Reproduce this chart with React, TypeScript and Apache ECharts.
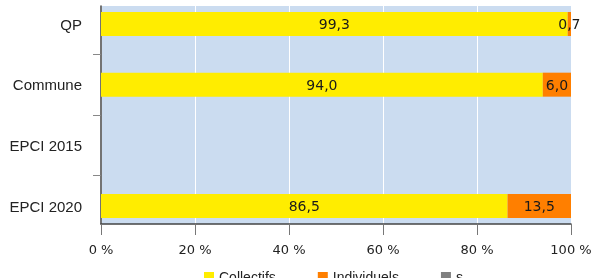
import React, { useEffect, useRef } from "react";
import * as echarts from "echarts";

const categories = ["QP", "Commune", "EPCI 2015", "EPCI 2020"];
const collectifs: (number | null)[] = [99.3, 94.0, null, 86.5];
const individuels: (number | null)[] = [0.7, 6.0, null, 13.5];
const secret: (number | null)[] = [0, 0, null, 0];
const seriesNames = ["Collectifs", "Individuels", "s"];
const seriesColors = ["#ffed00", "#ff7f00", "#808080"];
const xTicks = [0, 20, 40, 60, 80, 100];

const fmt = (p: any) => {
  const v = p.value;
  if (v == null || v === 0) return "";
  return Number(v).toFixed(1).replace(".", ",");
};

export default function App() {
  const ref = useRef<HTMLDivElement>(null);
  useEffect(() => {
    if (!ref.current) return;
    const chart = echarts.init(ref.current, null, { renderer: "svg" });
    const gridLeft = 101;
    const gridRight = 22;
    const seriesData = [collectifs, individuels, secret];
    chart.setOption({
      animation: false,
      legend: {
        data: seriesNames,
        left: 204,
        top: 270,
        padding: 0,
        itemWidth: 10,
        itemHeight: 10,
        itemGap: 42,
        icon: "rect",
        textStyle: { fontFamily: "Liberation Sans", fontSize: 14, color: "#222" },
      },
      grid: [
        {
          left: gridLeft,
          right: gridRight,
          top: 6,
          height: 218,
          show: true,
          backgroundColor: "#cbdcf0",
          borderWidth: 0,
          containLabel: false,
          outerBoundsMode: "none",
        },
        {
          left: gridLeft,
          right: gridRight,
          top: -6.33,
          height: 242.67,
          show: false,
          containLabel: false,
          outerBoundsMode: "none",
        },
      ],
      xAxis: [
        {
          type: "value",
          gridIndex: 0,
          min: 0,
          max: 100,
          interval: 20,
          axisLine: { show: true, onZero: false, lineStyle: { color: "#444", width: 1.5 } },
          axisTick: { show: true, length: 11, lineStyle: { color: "#777" } },
          axisLabel: {
            margin: 19,
            fontFamily: "DejaVu Sans",
            fontSize: 13,
            color: "#222",
            formatter: (v: number) => (xTicks.includes(v) ? v + " %" : ""),
          },
          splitLine: { show: true, lineStyle: { color: "#ffffff", width: 1 } },
        },
        {
          type: "value",
          gridIndex: 1,
          min: 0,
          max: 100,
          show: false,
        },
      ],
      yAxis: [
        {
          type: "value",
          gridIndex: 0,
          min: -0.3,
          max: 3.3,
          axisLine: { show: true, onZero: false, lineStyle: { color: "#444", width: 1.5 } },
          axisTick: {
            show: true,
            length: 8,
            customValues: [0.5, 1.5, 2.5],
            lineStyle: { color: "#888" },
          },
          axisLabel: { show: false },
          splitLine: { show: false },
        },
        {
          type: "category",
          gridIndex: 1,
          data: categories,
          inverse: true,
          boundaryGap: true,
          axisLine: { show: false },
          axisTick: { show: false },
          splitLine: { show: false },
          axisLabel: {
            margin: 19,
            fontFamily: "Liberation Sans",
            fontSize: 15,
            color: "#222",
          },
        },
      ],
      series: seriesNames.map((name, i) => ({
        name,
        type: "bar",
        stack: "total",
        xAxisIndex: 1,
        yAxisIndex: 1,
        barWidth: 24,
        data: seriesData[i],
        itemStyle: { color: seriesColors[i] },
        label: {
          show: true,
          position: "inside",
          formatter: fmt,
          fontFamily: "DejaVu Sans",
          fontSize: 14,
          color: "#1a1a1a",
        },
      })),
    });
    return () => chart.dispose();
  }, []);
  return (
    <div
      ref={ref}
      style={{ position: "fixed", left: 0, top: 0, width: 593, height: 278 }}
    />
  );
}
